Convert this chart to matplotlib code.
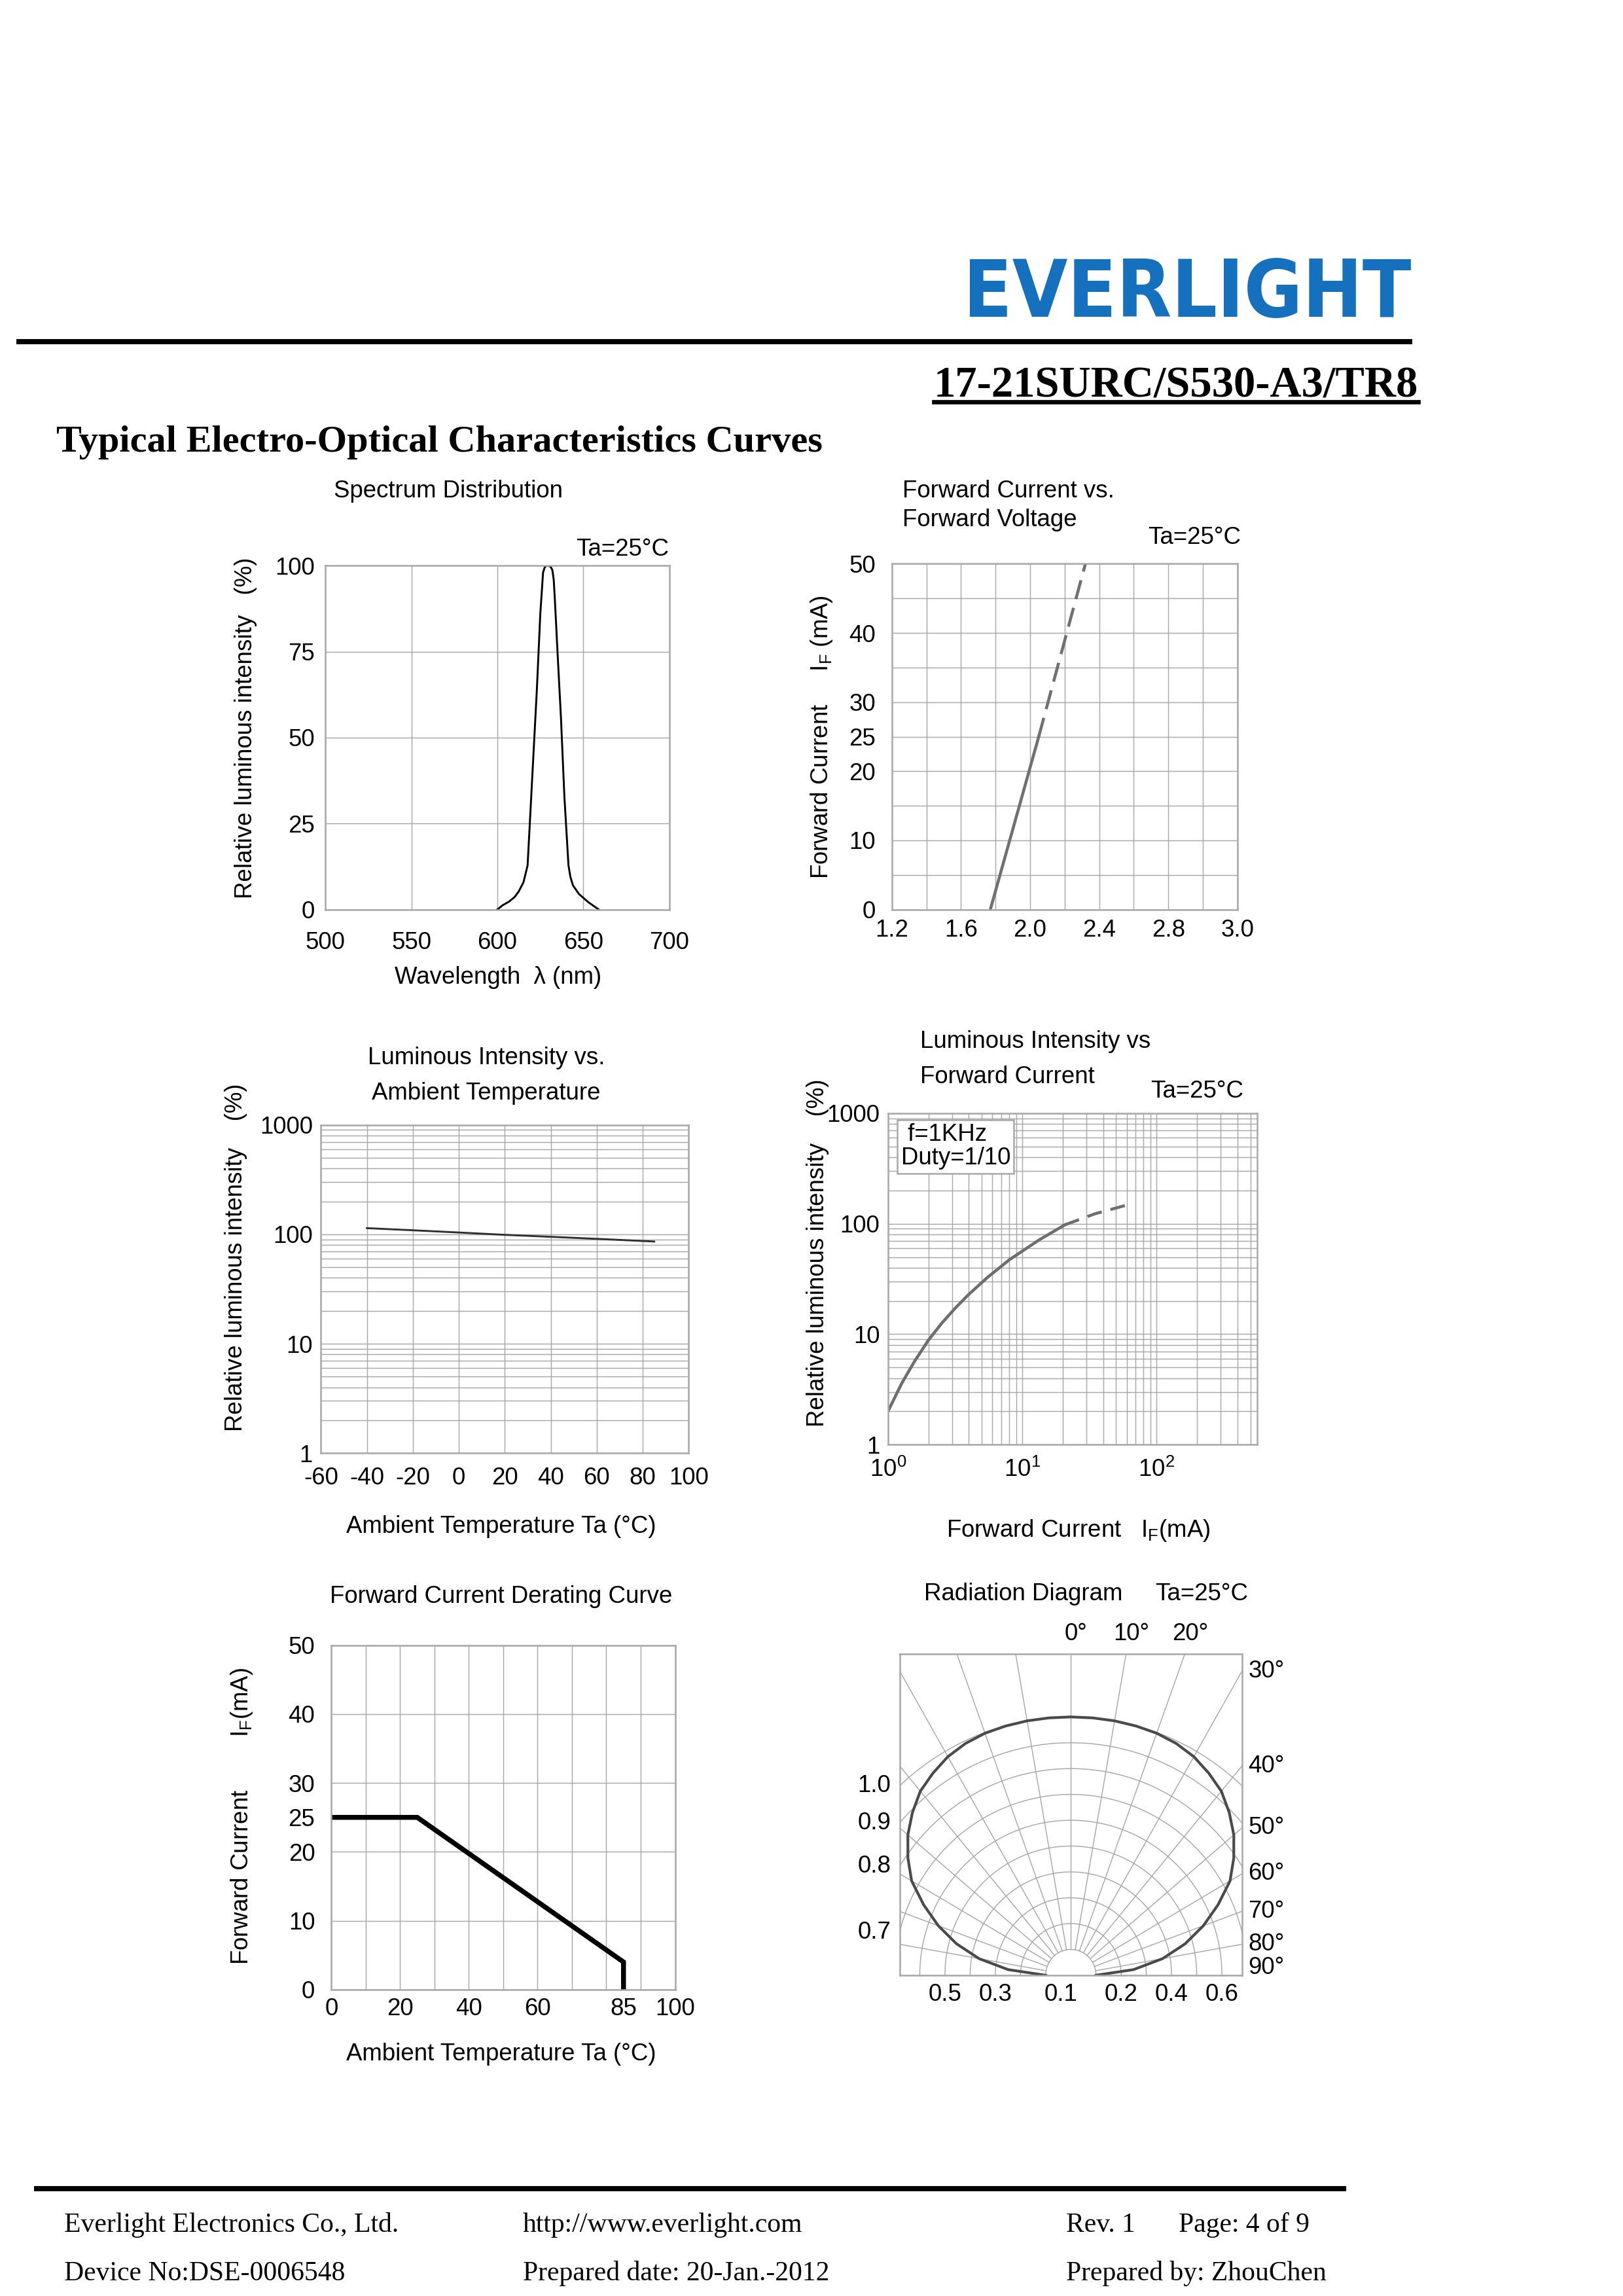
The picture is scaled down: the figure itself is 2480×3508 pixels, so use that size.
import numpy as np
import matplotlib
matplotlib.use("Agg")
import matplotlib.pyplot as plt
from matplotlib import font_manager
from matplotlib.lines import Line2D
from matplotlib.ticker import NullFormatter

W, H, DPI = 2480, 3508, 300
S = 0.9947          # page positions were measured on a slightly enlarged view
FS = 8.8
GRID = '#a8a8a8'

plt.rcParams['font.family'] = ['Liberation Sans', 'DejaVu Sans']
plt.rcParams['axes.unicode_minus'] = False
plt.rcParams['mathtext.fontset'] = 'custom'
plt.rcParams['mathtext.rm'] = 'Liberation Sans'
plt.rcParams['mathtext.it'] = 'Liberation Sans:italic'
plt.rcParams['mathtext.bf'] = 'Liberation Sans:bold'

# Spectrum distribution
spec_wl = [600, 603, 606.8, 610, 612.4, 615.2, 617.6, 619, 621, 623, 625, 626.6, 627.6, 628.6,
           629.8, 631, 632, 632.8, 633.6, 635, 637, 639, 641.4, 642.5, 644, 647.5, 653, 659]
spec_rel = [0, 1.2, 2.3, 3.6, 5.2, 7.9, 12.8, 26, 45, 64, 86, 98, 99.6, 100,
            100, 99.7, 98.8, 96, 89, 75, 56, 33, 12.8, 9.5, 7, 4.5, 2.1, 0]

# Forward current vs forward voltage
vf_solid = [1.77, 2.05]
if_solid = [0, 25]
vf_dash = [2.05, 2.32]
if_dash = [25, 50]
vf_ticks = [1.2, 1.6, 2.0, 2.4, 2.8, 3.2]
vf_labels = ['1.2', '1.6', '2.0', '2.4', '2.8', '3.0']
ivf_yticks = [0, 10, 20, 25, 30, 40, 50]

# Luminous intensity vs ambient temperature
ta_temp = [-40, -20, 0, 20, 40, 60, 85]
iv_temp = [114, 109, 104, 99, 95, 91, 86]

# Luminous intensity vs forward current
if_iv_solid = [1, 1.27, 1.58, 2.0, 2.52, 3.17, 3.98, 5.5, 8.02, 13.3, 20.8]
iv_solid = [2.0, 3.61, 5.69, 8.81, 12.6, 17.2, 22.8, 32.6, 47.2, 71.1, 97.8]
if_iv_dash = [20.8, 34.8, 58.1]
iv_dash = [97.8, 123, 146]

# Derating curve
der_ta = [0, 25, 85, 85]
der_if = [25, 25, 4, 0]
der_xticks = [0, 20, 40, 60, 85, 100]
der_yticks = [0, 10, 20, 25, 30, 40, 50]

# Radiation diagram (relative intensity vs angle from axis)
rad_angle = [0, 5, 10, 15, 20, 25, 30, 35, 40, 45, 50, 55, 60, 65, 70, 75, 80, 85, 90]
rad_value = [1.0, 1.0, 1.0, 0.999, 0.997, 0.99, 0.977, 0.955, 0.93, 0.89, 0.845,
             0.79, 0.73, 0.645, 0.56, 0.47, 0.37, 0.25, 0.10]
rad_rings = [0.1, 0.2, 0.3, 0.4, 0.5, 0.6, 0.7, 0.8, 0.9, 1.0]
rad_spokes = list(range(-90, 91, 10))
rad_top = [0, 10, 20]
rad_right = [30, 40, 50, 60, 70, 80, 90]
rad_left = [1.0, 0.9, 0.8, 0.7]
rad_bottom = ['0.5', '0.3', '0.1', '0.2', '0.4', '0.6']
rad_bottom_x = [-0.5, -0.3, -0.04, 0.2, 0.4, 0.6]

fig = plt.figure(figsize=(W / DPI, H / DPI), dpi=DPI)


def box(l, t, r, b):
    l, t, r, b = l * S, t * S, r * S, b * S
    return fig.add_axes([l / W, 1 - b / H, (r - l) / W, (b - t) / H])


def put(px, py, s, scale=True, **kw):
    kw.setdefault('fontsize', FS)
    k = S if scale else 1.0
    return fig.text(px * k / W, 1 - py * k / H, s, **kw)


def hline(x0, x1, y, lw, scale=True):
    k = S if scale else 1.0
    fig.add_artist(Line2D([x0 * k / W, x1 * k / W], [1 - y * k / H] * 2, color='black', lw=lw))


def style(ax, xpad=6, ypad=4):
    for sp in ax.spines.values():
        sp.set_color(GRID)
        sp.set_linewidth(0.6)
    ax.tick_params(which='both', length=0, labelsize=FS)
    ax.tick_params(axis='x', pad=xpad)
    ax.tick_params(axis='y', pad=ypad)
    ax.set_axisbelow(True)


# ---------------- header ----------------
names = {f.name for f in font_manager.fontManager.ttflist}
if 'Liberation Sans Narrow' in names:
    put(1470, 484, 'EVERLIGHT', scale=False, family='Liberation Sans Narrow', weight='bold',
        fontsize=34, color='#1570be', va='baseline')
else:
    put(1472, 484, 'EVERLIGHT', scale=False, family='DejaVu Sans', weight='bold',
        stretch='condensed', fontsize=29.2, color='#1570be', va='baseline')
hline(29, 2154, 522, 1.9, scale=False)
part = put(2167, 606, '17-21SURC/S530-A3/TR8', scale=False, family='Liberation Serif',
           weight='bold', fontsize=16, ha='right', va='baseline')
put(86, 680, 'Typical Electro-Optical Characteristics Curves', family='Liberation Serif',
    weight='bold', fontsize=14, va='center')

# ---------------- spectrum ----------------
ax1 = box(500, 869, 1028, 1397)
style(ax1, xpad=8, ypad=4)
ax1.plot(spec_wl, spec_rel, color='black', lw=0.7)
ax1.set_xlim(500, 700)
ax1.set_ylim(0, 100)
ax1.set_xticks([500, 550, 600, 650, 700])
ax1.set_yticks([0, 25, 50, 75, 100])
ax1.grid(True, color=GRID, lw=0.35)
put(689, 754, 'Spectrum Distribution', ha='center', va='center')
put(1028, 844, 'Ta=25°C', ha='right', va='center')
put(378, 1118, 'Relative luminous intensity   (%)', rotation=90, ha='center', va='center')
put(765, 1501, 'Wavelength  λ (nm)', ha='center', va='center')

# ---------------- IF vs VF ----------------
ax2 = box(1370, 866, 1901, 1397)
style(ax2, xpad=3.5, ypad=6)
ax2.plot(vf_solid, if_solid, color='#707070', lw=1.1)
ax2.plot(vf_dash, if_dash, color='#707070', lw=1.1, dashes=(6.5, 3))
ax2.set_xlim(1.2, 3.2)
ax2.set_ylim(0, 50)
ax2.set_xticks(vf_ticks)
ax2.set_xticklabels(vf_labels)
ax2.set_xticks(np.arange(1.2, 3.21, 0.2), minor=True)
ax2.set_yticks(ivf_yticks)
ax2.set_yticks(np.arange(0, 51, 5), minor=True)
ax2.xaxis.remove_overlapping_locs = False
ax2.yaxis.remove_overlapping_locs = False
ax2.grid(True, which='minor', color=GRID, lw=0.35)
put(1386, 754, 'Forward Current vs.', va='center')
put(1386, 799, 'Forward Voltage', va='center')
put(1906, 826, 'Ta=25°C', ha='right', va='center')
put(1262, 1132, r'Forward Current     I$_{\rm F}$ (mA)', rotation=90, ha='center', va='center')

# ---------------- IV vs Ta ----------------
ax3 = box(493, 1728, 1058, 2232)
style(ax3, xpad=5, ypad=3)
ax3.plot(ta_temp, iv_temp, color='#303030', lw=0.7)
ax3.set_yscale('log')
ax3.set_xlim(-60, 100)
ax3.set_ylim(1, 1000)
ax3.set_xticks(range(-60, 101, 20))
ax3.set_yticks([1, 10, 100, 1000])
ax3.set_yticklabels(['1', '10', '100', '1000'])
ax3.yaxis.set_minor_formatter(NullFormatter())
ax3.grid(True, which='both', color=GRID, lw=0.35)
put(747, 1625, 'Luminous Intensity vs.', ha='center', va='center')
put(747, 1679, 'Ambient Temperature', ha='center', va='center')
put(362, 1931, 'Relative luminous intensity    (%)', rotation=90, ha='center', va='center')
put(770, 2345, 'Ambient Temperature Ta (°C)', ha='center', va='center')

# ---------------- IV vs IF ----------------
ax4 = box(1364, 1710, 1931, 2219)
style(ax4, xpad=5, ypad=3)
ax4.plot(if_iv_solid, iv_solid, color='#6e6e6e', lw=1.1)
ax4.plot(if_iv_dash, iv_dash, color='#6e6e6e', lw=1.1, dashes=(5, 3))
ax4.set_xscale('log')
ax4.set_yscale('log')
ax4.set_xlim(1, 560)
ax4.set_ylim(1, 1000)
ax4.set_xticks([1, 10, 100])
ax4.set_xticklabels([r'10$^{0}$', r'10$^{1}$', r'10$^{2}$'])
ax4.set_yticks([1, 10, 100, 1000])
ax4.set_yticklabels(['1', '10', '100', '1000'])
ax4.xaxis.set_minor_formatter(NullFormatter())
ax4.yaxis.set_minor_formatter(NullFormatter())
ax4.grid(True, which='both', color=GRID, lw=0.35)
ax4.text(0.035, 0.97, ' f=1KHz\nDuty=1/10', transform=ax4.transAxes, fontsize=FS,
         ha='left', va='top', linespacing=1.05,
         bbox=dict(boxstyle='square,pad=0.15', facecolor='white', edgecolor=GRID, lw=0.6))
put(1413, 1600, 'Luminous Intensity vs', va='center')
put(1413, 1654, 'Forward Current', va='center')
put(1910, 1676, 'Ta=25°C', ha='right', va='center')
put(1256, 1924, 'Relative luminous intensity    (%)', rotation=90, ha='center', va='center')
put(1656, 2351, r'Forward Current   I$_{\rm F}$(mA)', ha='center', va='center')

# ---------------- derating ----------------
ax5 = box(509, 2527, 1037, 3056)
style(ax5, xpad=3, ypad=6)
ax5.plot(der_ta, der_if, color='black', lw=1.8, solid_joinstyle='miter')
ax5.set_xlim(0, 100)
ax5.set_ylim(0, 50)
ax5.set_xticks(der_xticks)
ax5.set_xticks(range(0, 101, 10), minor=True)
ax5.set_yticks(der_yticks)
ax5.set_yticks(range(0, 51, 10), minor=True)
ax5.xaxis.remove_overlapping_locs = False
ax5.yaxis.remove_overlapping_locs = False
ax5.grid(True, which='minor', color=GRID, lw=0.35)
ax5.grid(False, which='major')
put(770, 2453, 'Forward Current Derating Curve', ha='center', va='center')
put(371, 2790, r'Forward Current        I$_{\rm F}$(mA)', rotation=90, ha='center', va='center')
put(770, 3155, 'Ambient Temperature Ta (°C)', ha='center', va='center')

# ---------------- radiation diagram ----------------
ax6 = box(1382, 2540, 1908, 3034)
hw, ht = 0.68, 1.245
ax6.set_xlim(-hw, hw)
ax6.set_ylim(0, ht)
ax6.set_xticks([])
ax6.set_yticks([])
for sp in ax6.spines.values():
    sp.set_color(GRID)
    sp.set_linewidth(0.6)
t = np.radians(np.linspace(-90, 90, 361))
for r in rad_rings:
    ax6.plot(r * np.sin(t), r * np.cos(t), color=GRID, lw=0.35)
for a in rad_spokes:
    s = np.radians(a)
    ax6.plot([0.1 * np.sin(s), 3 * np.sin(s)], [0.1 * np.cos(s), 3 * np.cos(s)],
             color=GRID, lw=0.35)
ang = np.array(rad_angle, dtype=float)
val = np.array(rad_value)
full_ang = np.radians(np.concatenate([-ang[::-1], ang[1:]]))
full_val = np.concatenate([val[::-1], val[1:]])
ax6.plot(full_val * np.sin(full_ang), full_val * np.cos(full_ang), color='#4a4a4a', lw=1.0)
for a in rad_top:
    ax6.text(ht * np.tan(np.radians(a)) + 0.02, ht + 0.075, f'{a}°', fontsize=FS,
             ha='center', va='center')
for a in rad_right:
    y = hw / np.tan(np.radians(a)) if a < 90 else 0.0
    ax6.text(hw + 0.025, max(y, 0.03), f'{a}°', fontsize=FS, ha='left', va='center')
for r in rad_left:
    ax6.text(-hw - 0.035, np.sqrt(r ** 2 - hw ** 2), f'{r:.1f}', fontsize=FS,
             ha='right', va='center')
for x, s in zip(rad_bottom_x, rad_bottom):
    ax6.text(x, -0.075, s, fontsize=FS, ha='center', va='center')
put(1420, 2448, 'Radiation Diagram', va='center')
put(1775, 2448, 'Ta=25°C', va='center')

# ---------------- footer ----------------
hline(56, 2064, 3362, 1.9)
foot = dict(family='Liberation Serif', fontsize=10, va='center')
put(99, 3418, 'Everlight Electronics Co., Ltd.', **foot)
put(803, 3418, 'http://www.everlight.com', **foot)
put(1638, 3418, 'Rev. 1', **foot)
put(1811, 3418, 'Page: 4 of 9', **foot)
put(99, 3492, 'Device No:DSE-0006548', **foot)
put(803, 3492, 'Prepared date: 20-Jan.-2012', **foot)
put(1638, 3492, 'Prepared by: ZhouChen', **foot)

# underline for the part number
fig.canvas.draw()
bb = part.get_window_extent()
fig.add_artist(Line2D([bb.x0 / W, bb.x1 / W], [1 - 614 / H] * 2, color='black', lw=1.6))

fig.savefig('out.png', dpi=DPI)
